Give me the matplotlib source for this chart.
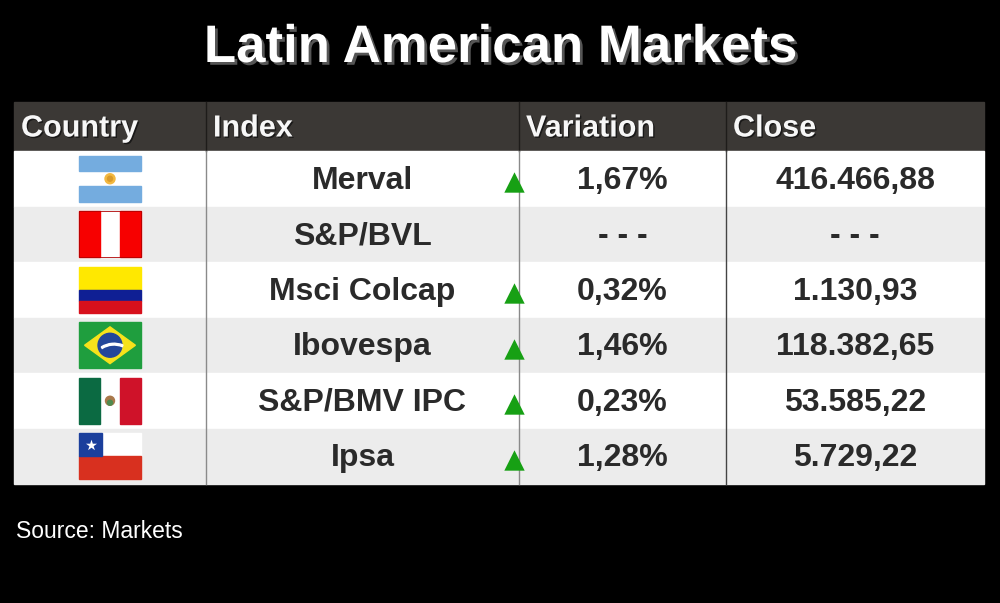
import matplotlib.pyplot as plt
from matplotlib.patches import Rectangle, Polygon, Circle, Wedge
import matplotlib.patheffects as pe

# Table data
countries = ['Argentina', 'Peru', 'Colombia', 'Brazil', 'Mexico', 'Chile']
indices = ['Merval', 'S&P/BVL', 'Msci Colcap', 'Ibovespa', 'S&P/BMV IPC', 'Ipsa']
variations = ['1,67%', '- - -', '0,32%', '1,46%', '0,23%', '1,28%']
closes = ['416.466,88', '- - -', '1.130,93', '118.382,65', '53.585,22', '5.729,22']
direction = ['up', None, 'up', 'up', 'up', 'up']
headers = ['Country', 'Index', 'Variation', 'Close']

title = 'Latin American Markets'
source = 'Source: Markets'

FONT = 'Liberation Sans'

fig = plt.figure(figsize=(10, 6.03), dpi=100)
fig.patch.set_facecolor('black')
ax = fig.add_axes([0, 0, 1, 1])
ax.set_xlim(0, 1000)
ax.set_ylim(603, 0)
ax.axis('off')

col_edges = [14, 206, 519, 726, 984]
head_top, head_h = 102, 49
row_h = 55.5
body_top = head_top + head_h
body_bot = body_top + row_h * len(countries)


# ---- flags -----------------------------------------------------------
def flag_argentina(x, y, w, h):
    ax.add_patch(Rectangle((x, y), w, h, color='white', zorder=3))
    ax.add_patch(Rectangle((x, y), w, h / 3, color='#74acdf', zorder=3))
    ax.add_patch(Rectangle((x, y + 2 * h / 3), w, h / 3, color='#74acdf', zorder=3))
    ax.add_patch(Circle((x + w / 2, y + h / 2), 5, color='#f2b840', zorder=4))
    ax.add_patch(Circle((x + w / 2, y + h / 2), 2.5, color='#d99a2b', zorder=4))


def flag_peru(x, y, w, h):
    ax.add_patch(Rectangle((x, y), w, h, color='white', zorder=3))
    ax.add_patch(Rectangle((x, y), w / 3, h, color='#f70000', zorder=3))
    ax.add_patch(Rectangle((x + 2 * w / 3, y), w / 3, h, color='#f70000', zorder=3))
    ax.add_patch(Rectangle((x, y), w, h, fill=False, ec='#b00000', lw=0.6, zorder=4))


def flag_colombia(x, y, w, h):
    ax.add_patch(Rectangle((x, y), w, h / 2, color='#ffe800', zorder=3))
    ax.add_patch(Rectangle((x, y + h / 2), w, h / 4, color='#0f1f94', zorder=3))
    ax.add_patch(Rectangle((x, y + 3 * h / 4), w, h / 4, color='#d7101c', zorder=3))


def flag_brazil(x, y, w, h):
    ax.add_patch(Rectangle((x, y), w, h, color='#1f9e3e', zorder=3))
    mx, my = w * 0.09, h * 0.1
    cx, cy = x + w / 2, y + h / 2
    ax.add_patch(Polygon([(x + mx, cy), (cx, y + my), (x + w - mx, cy), (cx, y + h - my)],
                         closed=True, color='#f7e21b', zorder=4))
    ax.add_patch(Circle((cx, cy), h * 0.26, color='#24479a', zorder=5))
    ax.add_patch(Wedge((cx + 4, cy + 22), 24, 238, 292, width=1.8, color='white', zorder=6))


def flag_mexico(x, y, w, h):
    ax.add_patch(Rectangle((x, y), w, h, color='white', zorder=3))
    ax.add_patch(Rectangle((x, y), w / 3, h, color='#0b6a42', zorder=3))
    ax.add_patch(Rectangle((x + 2 * w / 3, y), w / 3, h, color='#cf1229', zorder=3))
    ax.add_patch(Circle((x + w / 2, y + h / 2), 4.5, color='#a9784a', zorder=4))
    ax.add_patch(Circle((x + w / 2, y + h / 2 + 2), 2.5, color='#4f8a4e', zorder=4))


def flag_chile(x, y, w, h):
    ax.add_patch(Rectangle((x, y), w, h / 2, color='white', zorder=3))
    ax.add_patch(Rectangle((x, y + h / 2), w, h / 2, color='#d8301f', zorder=3))
    ax.add_patch(Rectangle((x, y), h / 2, h / 2, color='#1b3f9c', zorder=4))
    ax.scatter([x + h / 4], [y + h / 4], marker='*', s=70, color='white',
               linewidths=0, zorder=5)


flag_funcs = {'Argentina': flag_argentina, 'Peru': flag_peru, 'Colombia': flag_colombia,
              'Brazil': flag_brazil, 'Mexico': flag_mexico, 'Chile': flag_chile}

# ---- header ----------------------------------------------------------
ax.add_patch(Rectangle((col_edges[0], head_top), col_edges[-1] - col_edges[0], head_h,
                       color='#3b3835', zorder=1))
for i, h in enumerate(headers):
    ax.text(col_edges[i] + 7, head_top + head_h / 2 + 2, h, color='#f7f7f7',
            fontsize=22, fontweight='bold', family=FONT, ha='left', va='center', zorder=2,
            path_effects=[pe.withSimplePatchShadow(offset=(1, -1), shadow_rgbFace='#111111', alpha=0.8)])

# ---- body rows -------------------------------------------------------
for r in range(len(countries)):
    top = body_top + r * row_h
    bg = 'white' if r % 2 == 0 else '#ececec'
    ax.add_patch(Rectangle((col_edges[0], top), col_edges[-1] - col_edges[0], row_h,
                           color=bg, zorder=1))
    yc = top + row_h / 2

    fw, fh = 62, 46
    flag_funcs[countries[r]](110 - fw / 2, yc - fh / 2, fw, fh)

    txt_kw = dict(color='#2a2a2a', fontsize=23, fontweight='bold', family=FONT,
                  ha='center', va='center', zorder=3)
    ax.text((col_edges[1] + col_edges[2]) / 2, yc + 2, indices[r], **txt_kw)
    ax.text((col_edges[2] + col_edges[3]) / 2, yc + 2, variations[r], **txt_kw)
    ax.text((col_edges[3] + col_edges[4]) / 2, yc + 2, closes[r], **txt_kw)

    if direction[r] == 'up':
        ax.scatter([col_edges[2] - 5], [yc + 3.5], marker='^', s=215, color='#17a014',
                   linewidths=0, zorder=4)

# vertical separators
for i, xe in enumerate(col_edges[1:-1]):
    ax.plot([xe, xe], [head_top, head_top + head_h], color='#1e1c1a', lw=1, zorder=2)
    ax.plot([xe, xe], [body_top, body_bot], color='#8a8a8a' if i < 2 else '#444444',
            lw=1, zorder=2)

# ---- title & source --------------------------------------------------
ax.text(500, 48, title, color='white', fontsize=38, fontweight='bold', family=FONT,
        ha='center', va='center',
        path_effects=[pe.withSimplePatchShadow(offset=(2, -2), shadow_rgbFace='#555555', alpha=1)])
ax.text(16, 531, source, color='white', fontsize=16.5, family=FONT, ha='left', va='center')

fig.savefig('out.png', dpi=100, facecolor='black')
